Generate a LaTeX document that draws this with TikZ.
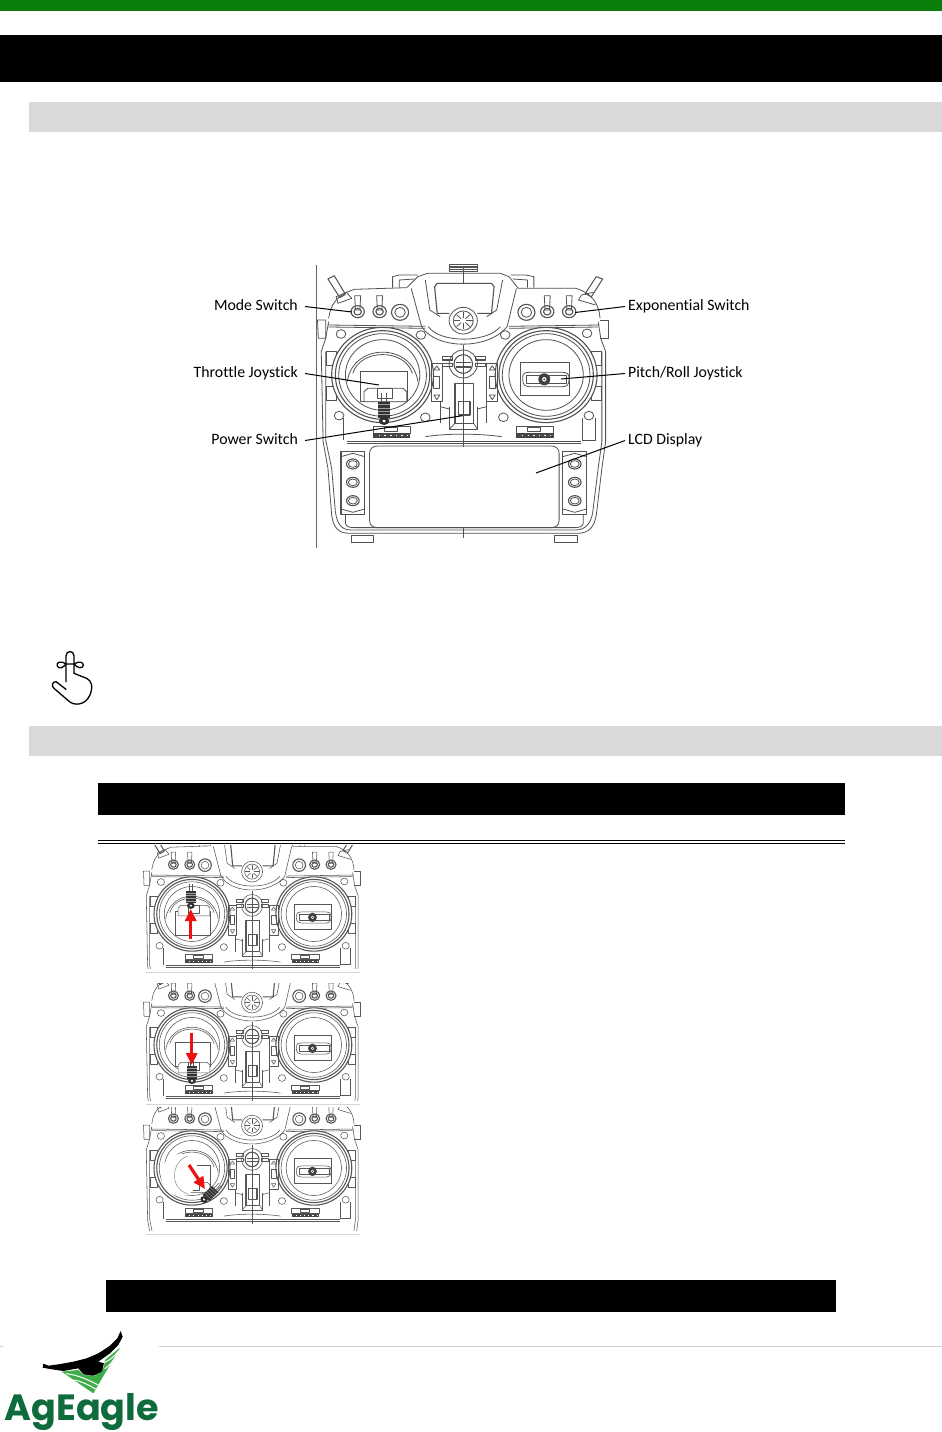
\documentclass[tikz,border=0pt]{standalone}
\usepackage{fontspec}
\setmainfont[Ligatures=NoCommon]{Carlito}
\newfontfamily\logofont{Poppins}
\usetikzlibrary{arrows.meta}
\definecolor{topgreen}{HTML}{0A7D0A}
\definecolor{bargray}{HTML}{D9D9D9}
\definecolor{logogreen}{HTML}{0E6B3B}
\definecolor{leafgreen}{HTML}{3FAE49}
\definecolor{arrowred}{HTML}{EE1111}
\tikzset{
  rl/.style={draw=black!68,line width=0.8pt,line join=round},
  labelL/.style={anchor=east,inner xsep=7pt,inner ysep=0pt,text height=10pt,text depth=3pt,font=\fontsize{15.8}{18}\selectfont},
  labelR/.style={anchor=west,inner xsep=3pt,inner ysep=0pt,text height=10pt,text depth=3pt,font=\fontsize{15.8}{18}\selectfont},
  leader/.style={draw=black,line width=1pt},
  pointer/.style={draw=arrowred,line width=3.2pt,-{Triangle[length=12pt,width=11pt]}},
  blackbar/.style={fill=black,draw=none},
  graybar/.style={fill=bargray,draw=none},
  fing/.style={draw=black,line width=1.3pt,line cap=round,line join=round},
}
% left-stick slot y, stick x, stick y, stick rotation
\newcommand{\rcbody}[4]{%
  % top connector and handle
  \draw[rl] (725,28) rectangle (800,48);
  \foreach \yy in {33,38,43}{\draw[rl] (725,\yy)--(800,\yy);}
  \draw[rl] (572,98)--(572,65)--(590,60)--(640,60);
  \draw[rl] (590,98)--(590,75)--(630,72);
  \draw[rl] (952,98)--(952,65)--(930,60)--(890,60);
  \draw[rl] (935,98)--(935,75)--(895,72);
  % levers
  \draw[rl,line width=1pt] (398,72)--(415,62)--(445,118)--(430,128)--cycle;
  \draw[rl] (420,125)--(448,112)--(462,130)--(425,145)--cycle;
  \draw[rl,line width=1pt] (1120,65)--(1137,72)--(1107,125)--(1090,116)--cycle;
  \draw[rl] (1112,112)--(1080,120)--(1072,135)--(1118,150);
  % dash
  \draw[rl] (400,190) .. controls (405,150) and (420,120) .. (470,103) -- (610,98) -- (640,65) -- (665,55) -- (862,55) -- (885,65) -- (910,100) -- (1065,100) .. controls (1110,115) and (1128,150) .. (1130,190);
  \draw[rl] (622,100)--(650,215);
  \draw[rl] (905,100)--(880,215);
  \draw[rl] (660,75)--(672,165)--(700,185);
  \draw[rl] (868,75)--(852,165)--(825,185);
  \draw[rl] (650,215) .. controls (690,285) and (830,285) .. (880,215);
  \draw[rl] (668,215) .. controls (700,265) and (825,265) .. (862,215);
  % display
  \draw[rl,line width=1.1pt] (725,175)--(692,175)--(685,95)--(692,85)--(838,85)--(845,95)--(838,175)--(800,175);
  % dial
  \draw[rl,fill=white] (762,197) ellipse (38 and 40);
  \draw[rl] (762,197) ellipse (27 and 29);
  \foreach \aa in {0,45,...,315}{\draw[rl] (762,197) ++(\aa:8)--++(\aa:17);}
  % switches
  \foreach \xx in {478,537,988,1047}{
    \draw[rl,line width=1.1pt] (\xx,170) ellipse (18 and 18);
    \draw[rl,line width=1.1pt] (\xx,170) ellipse (10 and 10);
    \draw[rl] (\xx-8,122)--(\xx+8,122)--(\xx+6,165)--(\xx-6,165)--cycle;
  }
  \foreach \xx in {592,932}{
    \draw[rl,line width=1.1pt] (\xx,172) ellipse (23 and 24);
    \draw[rl] (\xx,172) ellipse (14 and 15);
  }
  % deck lines
  \draw[rl] (398,210)--(660,214);
  \draw[rl] (400,216)--(660,220);
  \draw[rl] (885,214)--(1128,210);
  \draw[rl] (885,220)--(1125,216);
  % body
  \draw[rl] (370,195)--(392,195)--(392,250)--(372,250)--cycle;
  \draw[rl] (1130,195)--(1152,195)--(1152,250)--(1130,250);
  \draw[rl] (400,200)--(392,250)--(380,290)--(385,560)--(398,640)--(408,780) .. controls (412,815) and (425,835) .. (455,835)--(1070,835) .. controls (1100,835) and (1115,815) .. (1120,780)--(1135,640)--(1145,560)--(1145,290)--(1132,250)--(1125,200);
  \draw[rl] (392,290)--(392,555)--(408,640)--(418,770) .. controls (422,800) and (430,825) .. (460,825)--(1065,825) .. controls (1090,825) and (1105,805) .. (1110,775)--(1125,640)--(1135,560)--(1135,290);
  \draw[rl] (445,780)--(445,805) .. controls (447,815) and (455,818) .. (470,818)--(1060,818) .. controls (1075,818) and (1083,815) .. (1085,805)--(1085,780);
  \draw[rl] (450,565)--(1080,565);
  \draw[rl] (450,558)--(1080,558);
  \draw[rl] (395,290) rectangle (420,330);
  \draw[rl] (395,395) rectangle (420,435);
  \draw[rl] (1108,290) rectangle (1135,330);
  \draw[rl] (1108,395) rectangle (1135,435);
  \draw[rl] (440,490)--(440,555);
  \draw[rl] (1082,490)--(1082,555);
  \draw[rl] (1118,490)--(1118,555)--(1082,555);
  % screws
  \foreach \xx/\yy in {433/237,648/240,875/240,1095/235,428/482,660/487,870/487,1100/482}{
    \draw[rl] (\xx,\yy) ellipse (13 and 13);
  }
  % gimbal rings
  \foreach \cx in {545,985}{
    \draw[rl,fill=white,line width=1.1pt] (\cx,360) ellipse (137 and 143);
    \draw[rl,line width=1.1pt] (\cx,360) ellipse (127 and 133);
    \draw[rl] (\cx,360) ellipse (118 and 124);
    \draw[rl] (\cx,360) ellipse (100 and 106);
  }
  \draw[rl] (450,380) .. controls (465,262) and (625,262) .. (640,380);
  \draw[rl] (465,355) .. controls (485,280) and (605,280) .. (625,355);
  % left gimbal inner
  \draw[rl] (484,350) rectangle (612,440);
  \draw[rl,fill=white] (495,#1-15)--(505,#1-25)--(600,#1-25)--(610,#1-15)--(610,#1+15)--(495,#1+15)--cycle;
  \draw[rl] (530,#1-25) rectangle (572,#1+5);
  % stick
  \begin{scope}[shift={(#2,#3)},rotate=#4]
    \draw[rl] (-6,-50)--(-6,-24) (6,-50)--(6,-24);
    \fill[black!80] (-17,-24) rectangle (17,24);
    \foreach \yy in {-16,-6,...,20}{\draw[white!62!black,line width=0.35pt] (-17,\yy)--(17,\yy);}
    \fill[black!82] (0,33) ellipse (14 and 12);
    \fill[white] (0,33) ellipse (5 and 4);
  \end{scope}
  % right gimbal inner
  \draw[rl] (915,322) rectangle (1047,420);
  \draw[rl,fill=white] (922,365) .. controls (922,355) and (930,352) .. (940,352) -- (1030,352) .. controls (1040,352) and (1047,355) .. (1047,372) .. controls (1047,390) and (1040,395) .. (1030,395) -- (940,395) .. controls (930,395) and (922,390) .. (922,375) -- cycle;
  \draw[rl] (932,362) rectangle (1040,385);
  \fill[black!75] (980,373) ellipse (16 and 18);
  \fill[white] (980,373) ellipse (6 and 7);
  \fill[black!75] (980,373) ellipse (3 and 3);
  % centre ring
  \draw[rl,fill=white] (762,327) ellipse (38 and 42);
  \draw[rl,line width=1.1pt] (762,327) ellipse (25 and 28);
  \draw[rl,line width=1.1pt] (742,322)--(782,322) (742,336)--(782,336);
  \foreach \xx in {705,795}{
    \draw[rl,line width=1.1pt] (\xx,305) rectangle (\xx+27,315);
    \draw[rl,line width=1.1pt] (\xx,325) rectangle (\xx+27,335);
  }
  % side trims
  \draw[rl] (677,325) rectangle (705,440);
  \draw[rl] (683,365) rectangle (697,400);
  \draw[rl] (825,325) rectangle (855,440);
  \draw[rl] (833,365) rectangle (848,400);
  \foreach \xx in {691,840}{
    \draw[rl] (\xx-8,345)--(\xx,333)--(\xx+8,345)--cycle;
    \draw[rl] (\xx-8,420)--(\xx,434)--(\xx+8,420)--cycle;
  }
  % power switch
  \draw[rl,line width=1.2pt] (740,385)--(790,385)--(790,505)--(740,505)--cycle;
  \draw[rl,line width=1.2pt] (750,440) rectangle (780,480);
  \draw[rl] (725,455)--(725,522)--(800,522)--(800,455);
  \draw[rl] (740,505)--(725,522) (790,505)--(800,522);
  \draw[rl] (700,455)--(725,462) (825,455)--(800,462);
  \draw[rl] (700,440)--(700,505) (825,440)--(825,505);
  \draw[rl] (660,545) .. controls (720,535) and (800,535) .. (865,545);
  % lower trims
  \foreach \xx in {520,905}{
    \draw[rl] (\xx,515) rectangle (\xx+100,535);
    \draw[rl] (\xx+30,518) rectangle (\xx+65,530);
    \fill[black!72] (\xx,535) rectangle (\xx+100,548);
    \foreach \kk in {15,30,...,90}{\fill[white] (\xx+\kk,540) rectangle (\xx+\kk+4,544);}
  }
  % centre line
  \draw[rl] (762,40)--(762,85) (762,270)--(762,575) (762,820)--(762,850);
}
\newcommand{\lowerpart}{%
  % LCD
  \draw[rl] (532,573)--(998,573) .. controls (1012,573) and (1020,582) .. (1020,595) -- (1020,796) .. controls (1020,810) and (1012,818) .. (998,818) -- (532,818) .. controls (518,818) and (510,810) .. (510,796) -- (510,595) .. controls (510,582) and (518,573) .. (532,573) -- cycle;
  \foreach \xx in {433,1030}{
    \draw[rl,line width=1.1pt,fill=white] (\xx,590) rectangle (\xx+64,778);
    \draw[rl] (\xx,605) -- (\xx+32,595)--(\xx+64,605);
    \draw[rl] (\xx,762) -- (\xx+32,772)--(\xx+64,762);
    \foreach \yy in {627,682,737}{
      \draw[rl,line width=1.1pt] (\xx+32,\yy) ellipse (17 and 15);
      \draw[rl] (\xx+32,\yy) ellipse (12 and 10);
    }
  }
  \draw[rl] (460,840) rectangle (520,862);
  \draw[rl] (1008,840) rectangle (1070,862);
}
\newcommand{\smallrc}[7]{%
  \begin{scope}
    \clip (143,#2) rectangle (365,#3);
    \begin{scope}[shift={(41,#1)},xscale=0.277,yscale=0.26,rl/.append style={line width=0.55pt,draw=black!66}]
      \rcbody{#4}{#5}{#6}{#7}
    \end{scope}
  \end{scope}
  \draw[black!16,line width=0.8pt] (146,#3+4)--(360,#3+4);
}
\begin{document}
\begin{tikzpicture}[x=1pt,y=-1pt]
\useasboundingbox (0,0) rectangle (942,1432);
\fill[white] (0,0) rectangle (942,1432);
% bars
\fill[topgreen] (0,0) rectangle (942,11);
\path[blackbar] (0,35) rectangle (942,82);
\path[graybar] (29,102) rectangle (942,132);
\path[graybar] (29,726) rectangle (942,756);
\path[blackbar] (98,783) rectangle (845,815);
\draw[black,line width=0.8pt] (98,840)--(845,840) (98,843)--(845,843);
\path[blackbar] (106,1280) rectangle (836,1312);
\draw[black!18,line width=0.8pt] (0,1346)--(3,1346) (159,1346)--(942,1346);
% big remote
\draw[black!60,line width=0.6pt] (316,265)--(316,548);
\begin{scope}[shift={(180,255)},xscale=0.3717,yscale=0.3333]
  \rcbody{425}{549}{465}{0}
  \lowerpart
\end{scope}
% labels and leaders
\node[labelL] (mode) at (305,306.5) {Mode Switch};
\node[labelL] (throttle) at (305,373.5) {Throttle Joystick};
\node[labelL] (power) at (305,440.5) {Power Switch};
\node[labelR] (expo) at (625,306.5) {Exponential Switch};
\node[labelR] (pitch) at (625,373.5) {Pitch/Roll Joystick};
\node[labelR] (lcd) at (625,440.5) {LCD Display};
\coordinate (modeEnd) at (352,312);
\coordinate (throttleEnd) at (379,385);
\coordinate (powerEnd) at (462.5,415.7);
\coordinate (expoEnd) at (575,312.5);
\coordinate (pitchEnd) at (561,379);
\coordinate (lcdEnd) at (536,473);
\draw[leader] (mode.east)--(modeEnd);
\draw[leader] (throttle.east)--(throttleEnd);
\draw[leader] (power.east)--(powerEnd);
\draw[leader] (expo.west)--(expoEnd);
\draw[leader] (pitch.west)--(pitchEnd);
\draw[leader] (lcd.west)--(lcdEnd);
% finger icon
\begin{scope}[shift={(30,640)},scale=0.3333]
  \draw[fing] (108,125)--(108,48) .. controls (108,30) and (132,30) .. (132,48) -- (132,100);
  \draw[fing] (108,72) .. controls (90,60) and (78,68) .. (82,78) .. controls (86,88) and (100,84) .. (108,72) -- (132,72) .. controls (142,84) and (158,88) .. (160,76) .. controls (160,66) and (148,62) .. (132,72);
  \draw[fing] (108,148)--(78,125) .. controls (66,125) and (64,138) .. (72,145) -- (115,182) .. controls (130,198) and (165,198) .. (180,165) .. controls (190,140) and (185,122) .. (170,115) -- (132,100);
\end{scope}
% three small remotes
\smallrc{820.4}{845}{968}{352}{541}{295}{0}
\smallrc{951.4}{983}{1100}{452}{545}{465}{0}
\smallrc{1074.4}{1107}{1230}{440}{612}{458}{-45}
% cleared area inside the third left gimbal
\fill[white] (180,1175) ellipse (19 and 21);
\draw[black!45,line width=0.5pt] (188,1156) .. controls (172,1160) and (168,1188) .. (188,1194);
% red arrows
\coordinate (a1s) at (190.7,939);
\coordinate (a1e) at (190.7,909);
\coordinate (a2s) at (191.7,1033);
\coordinate (a2e) at (191.7,1065);
\coordinate (a3s) at (189,1165);
\coordinate (a3e) at (205,1189);
\draw[pointer] (a1s)--(a1e);
\draw[pointer] (a2s)--(a2e);
\draw[pointer] (a3s)--(a3e);
% logo
\begin{scope}[shift={(30,1325)},scale=0.3333]
  \fill[leafgreen] (95,140)--(190,205)--(270,68)--(225,105)--(222,125)--(195,152)--(160,150)--(145,135)--cycle;
  \draw[white,line width=1pt] (108,146) .. controls (145,150) and (175,165) .. (205,180);
  \draw[white,line width=1pt] (130,165) .. controls (155,168) and (175,180) .. (197,192);
  \draw[white,line width=1pt] (224,112) .. controls (240,105) and (252,95) .. (264,80);
  \draw[white,line width=1pt] (224,132) .. controls (236,122) and (246,112) .. (256,98);
  \fill[black] (272,18)--(262,40)--(240,62)--(205,85)--(170,100)--(130,110)--(85,118)--(55,122)--(40,116)--(38,128)--(60,132)--(100,138)--(145,130)--(160,148)--(190,152)--(215,140)--(222,115)--(205,110)--(240,85)--(265,60)--(278,35)--cycle;
\end{scope}
\node[anchor=base west,inner sep=0pt,text=logogreen,font=\logofont\bfseries\fontsize{36.5}{40}\selectfont] (logo) at (4.5,1420) {AgEagle};
\end{tikzpicture}
\end{document}
